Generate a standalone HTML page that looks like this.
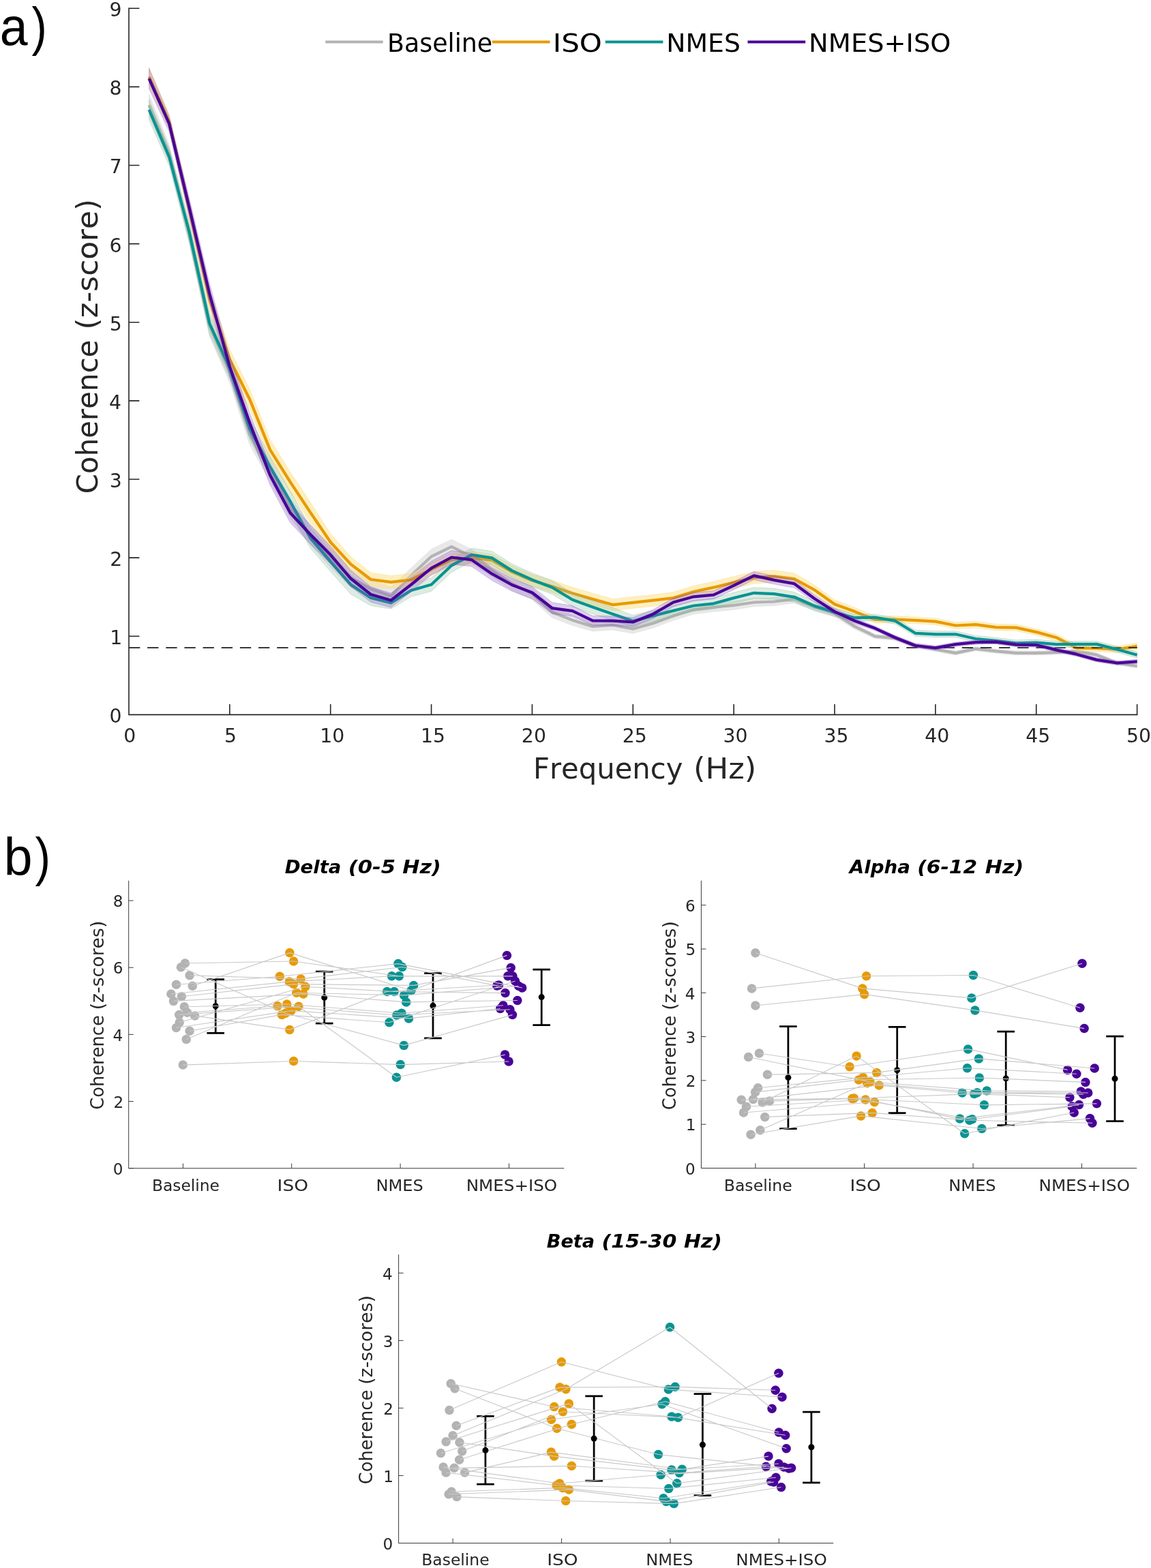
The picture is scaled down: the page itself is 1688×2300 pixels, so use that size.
<!DOCTYPE html>
<html lang="en">
<head>
<meta charset="utf-8">
<title>Coherence figure</title>
<style>
html,body{margin:0;padding:0;background:#fff;}
body{width:1688px;height:2300px;overflow:hidden;}
svg{display:block;font-family:"DejaVu Sans","Liberation Sans",sans-serif;font-kerning:none;}
</style>
</head>
<body>
<svg width="1688" height="2300" viewBox="0 0 1688 2300">
<rect width="1688" height="2300" fill="#fff"/>
<g id="panelA">
<polygon points="218.57,138.3 248.14,212 277.72,329 307.29,462.5 336.86,530.6 366.43,622.7 396,675.8 425.58,729.9 455.15,769 484.72,803.75 514.29,834.5 543.86,850.25 573.44,861 603.01,833 632.58,805.47 662.15,791.13 691.72,805.8 721.3,826.2 750.87,846.7 780.44,861.7 810.01,889.67 839.58,902.13 869.16,911.9 898.73,910.07 928.3,915.64 957.87,907.51 987.44,896.69 1017.02,887.66 1046.59,884.13 1076.16,881.5 1105.73,877.3 1135.3,876.6 1164.88,873.3 1194.45,885.4 1224.02,894.8 1253.59,914.75 1283.16,930.1 1312.74,932.82 1342.31,943.75 1371.88,949.27 1401.45,954.69 1431.02,948.42 1460.6,952.04 1490.17,954.76 1519.74,954.78 1549.31,953.91 1578.88,952.13 1608.46,957.65 1638.03,969.48 1667.6,974 1667.6,980 1638.03,975.52 1608.46,963.75 1578.88,958.27 1549.31,960.09 1519.74,961.02 1490.17,961.04 1460.6,958.36 1431.02,954.78 1401.45,961.11 1371.88,955.73 1342.31,950.25 1312.74,939.38 1283.16,936.7 1253.59,923.05 1224.02,904.8 1194.45,896 1164.88,884.5 1135.3,888.4 1105.73,889.7 1076.16,894.5 1046.59,897.27 1017.02,900.94 987.44,910.11 957.87,921.09 928.3,929.36 898.73,923.93 869.16,925.9 839.58,917.47 810.01,906.33 780.44,879.7 750.87,865.7 721.3,846.2 691.72,826.8 662.15,812.47 632.58,827.13 603.01,855 573.44,887 543.86,876.75 514.29,861.5 484.72,832.25 455.15,799 425.58,760.1 396,706.2 366.43,653.3 336.86,561.4 307.29,493.5 277.72,359 248.14,238 218.57,170.3" fill="#bfbfbf" fill-opacity="0.35" stroke="#b0b0b0" stroke-opacity="0.25" stroke-width="0.7" stroke-linejoin="round"/>
<polyline points="218.57,154.3 248.14,225 277.72,344 307.29,478 336.86,546 366.43,638 396,691 425.58,745 455.15,784 484.72,818 514.29,848 543.86,863.5 573.44,874 603.01,844 632.58,816.3 662.15,801.8 691.72,816.3 721.3,836.2 750.87,856.2 780.44,870.7 810.01,898 839.58,909.8 869.16,918.9 898.73,917 928.3,922.5 957.87,914.3 987.44,903.4 1017.02,894.3 1046.59,890.7 1076.16,888 1105.73,883.5 1135.3,882.5 1164.88,878.9 1194.45,890.7 1224.02,899.8 1253.59,918.9 1283.16,933.4 1312.74,936.1 1342.31,947 1371.88,952.5 1401.45,957.9 1431.02,951.6 1460.6,955.2 1490.17,957.9 1519.74,957.9 1549.31,957 1578.88,955.2 1608.46,960.7 1638.03,972.5 1667.6,977" fill="none" stroke="#b3b3b3" stroke-width="4.25" stroke-linejoin="round" stroke-linecap="butt"/>
<polygon points="218.57,98.6 248.14,167.5 277.72,294 307.29,424 336.86,512 366.43,571.2 396,644.6 425.58,691.9 455.15,736.6 484.72,782.7 514.29,816.25 543.86,840 573.44,844.3 603.01,841.5 632.58,826.1 662.15,812.2 691.72,809.1 721.3,812.7 750.87,829.8 780.44,842.5 810.01,851.3 839.58,861.3 869.16,870.07 898.73,878.43 928.3,875.3 957.87,872.13 987.44,868.46 1017.02,859.29 1046.59,852.91 1076.16,845.54 1105.73,838.17 1135.3,836.3 1164.88,840.83 1194.45,857.97 1224.02,879.7 1253.59,891.35 1283.16,903.9 1312.74,903.52 1342.31,904.83 1371.88,906.65 1401.45,912.56 1431.02,911.28 1460.6,915.29 1490.17,915.81 1519.74,922.22 1549.31,930.34 1578.88,945.45 1608.46,946.17 1638.03,947.68 1667.6,943.1 1667.6,952.7 1638.03,957.32 1608.46,955.83 1578.88,955.15 1549.31,940.06 1519.74,931.98 1490.17,925.59 1460.6,925.11 1431.02,921.12 1401.45,922.44 1371.88,916.55 1342.31,914.77 1312.74,913.48 1283.16,913.9 1253.59,902.85 1224.02,892.7 1194.45,872.63 1164.88,857.17 1135.3,854.3 1105.73,856.03 1076.16,863.26 1046.59,870.49 1017.02,876.71 987.44,885.74 957.87,889.27 928.3,892.3 898.73,895.77 869.16,887.73 839.58,879.3 810.01,869.3 780.44,860.5 750.87,847.8 721.3,830.7 691.72,827.1 662.15,830.2 632.58,844.1 603.01,859.5 573.44,863.3 543.86,860 514.29,838.75 484.72,807.7 455.15,766.6 425.58,721.9 396,674.6 366.43,601.2 336.86,542 307.29,454 277.72,322 248.14,189.5 218.57,126.6" fill="#ffdf80" fill-opacity="0.5" stroke="#f0c860" stroke-opacity="0.35" stroke-width="0.7" stroke-linejoin="round"/>
<polyline points="218.57,112.6 248.14,178.5 277.72,308 307.29,439 336.86,527 366.43,586.2 396,659.6 425.58,706.9 455.15,751.6 484.72,795.2 514.29,827.5 543.86,850 573.44,853.8 603.01,850.5 632.58,835.1 662.15,821.2 691.72,818.1 721.3,821.7 750.87,838.8 780.44,851.5 810.01,860.3 839.58,870.3 869.16,878.9 898.73,887.1 928.3,883.8 957.87,880.7 987.44,877.1 1017.02,868 1046.59,861.7 1076.16,854.4 1105.73,847.1 1135.3,845.3 1164.88,849 1194.45,865.3 1224.02,886.2 1253.59,897.1 1283.16,908.9 1312.74,908.5 1342.31,909.8 1371.88,911.6 1401.45,917.5 1431.02,916.2 1460.6,920.2 1490.17,920.7 1519.74,927.1 1549.31,935.2 1578.88,950.3 1608.46,951 1638.03,952.5 1667.6,947.9" fill="none" stroke="#e79a00" stroke-width="4.25" stroke-linejoin="round" stroke-linecap="butt"/>
<line x1="189" y1="950.1" x2="1667.6" y2="950.1" stroke="#1c1c1c" stroke-width="1.7" stroke-dasharray="16.3 10.85" stroke-dashoffset="0"/>
<polygon points="218.57,146 248.14,217.3 277.72,326 307.29,459 336.86,524.6 366.43,614.5 396,669.3 425.58,720.4 455.15,774 484.72,809.3 514.29,843.4 543.86,865.4 573.44,875.1 603.01,856.65 632.58,847.8 662.15,819.74 691.72,804.08 721.3,808.52 750.87,827.16 780.44,840.4 810.01,851.7 839.58,869.8 869.16,880.4 898.73,891.37 928.3,902.43 957.87,895.4 987.44,887.8 1017.02,880.5 1046.59,877.3 1076.16,869.1 1105.73,861.8 1135.3,863.1 1164.88,868.47 1194.45,882.23 1224.02,892 1253.59,900.9 1283.16,901 1312.74,906.12 1342.31,924.23 1371.88,925.75 1401.45,925.76 1431.02,932.48 1460.6,935.29 1490.17,938.91 1519.74,938.02 1549.31,940.74 1578.88,940.45 1608.46,940.47 1638.03,948.08 1667.6,956.3 1667.6,965.1 1638.03,956.92 1608.46,949.33 1578.88,949.35 1549.31,949.66 1519.74,946.98 1490.17,947.89 1460.6,944.31 1431.02,941.52 1401.45,934.84 1371.88,934.85 1342.31,933.37 1312.74,915.28 1283.16,910.2 1253.59,911.5 1224.02,904 1194.45,895.57 1164.88,883.13 1135.3,879.1 1105.73,877.8 1076.16,885.1 1046.59,893.3 1017.02,896.5 987.44,903.8 957.87,911.4 928.3,919.77 898.73,910.03 869.16,900.4 839.58,889.8 810.01,871.7 780.44,860.4 750.87,847.04 721.3,828.28 691.72,823.72 662.15,839.26 632.58,867.2 603.01,875.35 573.44,893.1 543.86,888.4 514.29,871.4 484.72,838.3 455.15,804 425.58,750.6 396,699.7 366.43,645.1 336.86,555.4 307.29,490 277.72,356 248.14,243.3 218.57,176" fill="#8fbf9f" fill-opacity="0.3" stroke="#7fb08f" stroke-opacity="0.45" stroke-width="0.7" stroke-linejoin="round"/>
<polyline points="218.57,161 248.14,230.3 277.72,341 307.29,474.5 336.86,540 366.43,629.8 396,684.5 425.58,735.5 455.15,789 484.72,823.8 514.29,857.4 543.86,876.9 573.44,884.1 603.01,866 632.58,857.5 662.15,829.5 691.72,813.9 721.3,818.4 750.87,837.1 780.44,850.4 810.01,861.7 839.58,879.8 869.16,890.4 898.73,900.7 928.3,911.1 957.87,903.4 987.44,895.8 1017.02,888.5 1046.59,885.3 1076.16,877.1 1105.73,869.8 1135.3,871.1 1164.88,875.8 1194.45,888.9 1224.02,898 1253.59,906.2 1283.16,905.6 1312.74,910.7 1342.31,928.8 1371.88,930.3 1401.45,930.3 1431.02,937 1460.6,939.8 1490.17,943.4 1519.74,942.5 1549.31,945.2 1578.88,944.9 1608.46,944.9 1638.03,952.5 1667.6,960.7" fill="none" stroke="#089392" stroke-width="4.25" stroke-linejoin="round" stroke-linecap="butt"/>
<polygon points="218.57,100.3 248.14,170.2 277.72,291 307.29,416 336.86,522.8 366.43,606.4 396,682.5 425.58,738.1 455.15,770 484.72,800.8 514.29,836.5 543.86,860.7 573.44,869.9 603.01,847.13 632.58,823.16 662.15,807.59 691.72,811.51 721.3,832.24 750.87,848.77 780.44,860.3 810.01,883.87 839.58,888.53 869.16,903.3 898.73,903.84 928.3,905.79 957.87,894.13 987.44,877.07 1017.02,869.01 1046.59,866.46 1076.16,852.9 1105.73,838.4 1135.3,844.8 1164.88,850.2 1194.45,872.75 1224.02,892.6 1253.59,906.85 1283.16,918.4 1312.74,932.02 1342.31,943.83 1371.88,947.15 1401.45,942.06 1431.02,938.98 1460.6,938.49 1490.17,942.51 1519.74,943.02 1549.31,950.34 1578.88,956.65 1608.46,964.87 1638.03,969.48 1667.6,967.3 1667.6,973.3 1638.03,975.52 1608.46,970.93 1578.88,962.75 1549.31,956.46 1519.74,949.18 1490.17,948.69 1460.6,944.71 1431.02,945.22 1401.45,948.34 1371.88,953.45 1342.31,950.17 1312.74,938.38 1283.16,924.8 1253.59,914.55 1224.02,901.6 1194.45,883.25 1164.88,862.2 1135.3,856.8 1105.73,850.4 1076.16,864.9 1046.59,878.74 1017.02,881.59 987.44,889.93 957.87,907.27 928.3,919.21 898.73,917.56 869.16,917.3 839.58,903.87 810.01,900.53 780.44,878.3 750.87,867.23 721.3,851.16 691.72,830.89 662.15,827.41 632.58,843.44 603.01,867.87 573.44,891.1 543.86,883.3 514.29,860.5 484.72,826.8 455.15,798 425.58,766.5 396,711.3 366.43,635.6 336.86,552.4 307.29,446 277.72,319 248.14,193.2 218.57,130.3" fill="#8250c2" fill-opacity="0.28" stroke="#8a5cc4" stroke-opacity="0.5" stroke-width="0.7" stroke-linejoin="round"/>
<polyline points="218.57,115.3 248.14,181.7 277.72,305 307.29,431 336.86,537.6 366.43,621 396,696.9 425.58,752.3 455.15,784 484.72,813.8 514.29,848.5 543.86,872 573.44,880.5 603.01,857.5 632.58,833.3 662.15,817.5 691.72,821.2 721.3,841.7 750.87,858 780.44,869.3 810.01,892.2 839.58,896.2 869.16,910.3 898.73,910.7 928.3,912.5 957.87,900.7 987.44,883.5 1017.02,875.3 1046.59,872.6 1076.16,858.9 1105.73,844.4 1135.3,850.8 1164.88,856.2 1194.45,878 1224.02,897.1 1253.59,910.7 1283.16,921.6 1312.74,935.2 1342.31,947 1371.88,950.3 1401.45,945.2 1431.02,942.1 1460.6,941.6 1490.17,945.6 1519.74,946.1 1549.31,953.4 1578.88,959.7 1608.46,967.9 1638.03,972.5 1667.6,970.3" fill="none" stroke="#480397" stroke-width="4.25" stroke-linejoin="round" stroke-linecap="butt"/>
<path d="M189 12.23 V1048.4 H1667.6" fill="none" stroke="#262626" stroke-width="1.6" stroke-linecap="square"/>
<path d="M189 933.27h15.4M189 818.14h15.4M189 703.01h15.4M189 587.88h15.4M189 472.75h15.4M189 357.62h15.4M189 242.49h15.4M189 127.36h15.4M189 12.23h15.4M336.86 1048.4v-15.4M484.72 1048.4v-15.4M632.58 1048.4v-15.4M780.44 1048.4v-15.4M928.3 1048.4v-15.4M1076.16 1048.4v-15.4M1224.02 1048.4v-15.4M1371.88 1048.4v-15.4M1519.74 1048.4v-15.4M1667.6 1048.4v-15.4" fill="none" stroke="#262626" stroke-width="1.6"/>
<text transform="translate(160.43 1060.3) scale(0.9700 1)" font-size="29.2" fill="#262626">0</text>
<text transform="translate(161.31 945.17) scale(0.9700 1)" font-size="29.2" fill="#262626">1</text>
<text transform="translate(161.31 830.04) scale(0.9700 1)" font-size="29.2" fill="#262626">2</text>
<text transform="translate(160.87 714.91) scale(0.9700 1)" font-size="29.2" fill="#262626">3</text>
<text transform="translate(159.98 599.78) scale(0.9700 1)" font-size="29.2" fill="#262626">4</text>
<text transform="translate(160.87 484.65) scale(0.9700 1)" font-size="29.2" fill="#262626">5</text>
<text transform="translate(160.43 369.52) scale(0.9700 1)" font-size="29.2" fill="#262626">6</text>
<text transform="translate(160.87 254.39) scale(0.9700 1)" font-size="29.2" fill="#262626">7</text>
<text transform="translate(160.43 139.26) scale(0.9700 1)" font-size="29.2" fill="#262626">8</text>
<text transform="translate(160.43 24.13) scale(0.9700 1)" font-size="29.2" fill="#262626">9</text>
<text transform="translate(181.22 1089.3) scale(0.9700 1)" font-size="29.2" fill="#262626">0</text>
<text transform="translate(329.08 1089.3) scale(0.9700 1)" font-size="29.2" fill="#262626">5</text>
<text transform="translate(469.15 1089.3) scale(0.9700 1)" font-size="29.2" fill="#262626">10</text>
<text transform="translate(617.01 1089.3) scale(0.9700 1)" font-size="29.2" fill="#262626">15</text>
<text transform="translate(764.87 1089.3) scale(0.9700 1)" font-size="29.2" fill="#262626">20</text>
<text transform="translate(912.73 1089.3) scale(0.9700 1)" font-size="29.2" fill="#262626">25</text>
<text transform="translate(1060.59 1089.3) scale(0.9700 1)" font-size="29.2" fill="#262626">30</text>
<text transform="translate(1208.45 1089.3) scale(0.9700 1)" font-size="29.2" fill="#262626">35</text>
<text transform="translate(1356.31 1089.3) scale(0.9700 1)" font-size="29.2" fill="#262626">40</text>
<text transform="translate(1504.17 1089.3) scale(0.9700 1)" font-size="29.2" fill="#262626">45</text>
<text transform="translate(1652.03 1089.3) scale(0.9700 1)" font-size="29.2" fill="#262626">50</text>
<text transform="translate(0 1142.4)" font-size="43" fill="#262626"><tspan x="781.89" textLength="219.53" lengthAdjust="spacingAndGlyphs">Frequency</tspan> <tspan x="1017" textLength="92.29" lengthAdjust="spacingAndGlyphs">(Hz)</tspan></text>
<text transform="translate(142.6 0) rotate(-90)" font-size="43" fill="#262626"><tspan x="-724.27" textLength="225.78" lengthAdjust="spacingAndGlyphs">Coherence</tspan> <tspan x="-483.63" textLength="191.83" lengthAdjust="spacingAndGlyphs">(z-score)</tspan></text>
<line x1="477.3" y1="61.5" x2="561.7" y2="61.5" stroke="#b3b3b3" stroke-width="4"/>
<line x1="721.8" y1="61.5" x2="806.5" y2="61.5" stroke="#e79a00" stroke-width="4"/>
<line x1="887.7" y1="61.5" x2="972.4" y2="61.5" stroke="#089392" stroke-width="4"/>
<line x1="1096.5" y1="61.5" x2="1181.2" y2="61.5" stroke="#480397" stroke-width="4"/>
<text transform="translate(567.99 76) scale(0.9966 1)" font-size="36.5" fill="#000000">Baseline</text>
<text transform="translate(810.76 76) scale(1.1515 1)" font-size="36.5" fill="#000000">ISO</text>
<text transform="translate(977.26 76) scale(1.0349 1)" font-size="36.5" fill="#000000">NMES</text>
<text transform="translate(1186.1 76) scale(1.0512 1)" font-size="36.5" fill="#000000">NMES+ISO</text>
<text transform="translate(0 66.3)" font-size="77" fill="#000000" font-family="Liberation Sans, sans-serif"><tspan x="-0.29" textLength="40.83" lengthAdjust="spacingAndGlyphs">a</tspan><tspan x="46.4" textLength="22.26" lengthAdjust="spacingAndGlyphs">)</tspan></text>
</g>
<g id="delta">
<circle cx="271.4" cy="1413" r="6.75" fill="#b3b3b3"/>
<circle cx="265.4" cy="1418.7" r="6.75" fill="#b3b3b3"/>
<circle cx="278.1" cy="1430.8" r="6.75" fill="#b3b3b3"/>
<circle cx="258.5" cy="1444.3" r="6.75" fill="#b3b3b3"/>
<circle cx="282.3" cy="1446.3" r="6.75" fill="#b3b3b3"/>
<circle cx="250.9" cy="1458.1" r="6.75" fill="#b3b3b3"/>
<circle cx="266.3" cy="1461.7" r="6.75" fill="#b3b3b3"/>
<circle cx="254.5" cy="1468.4" r="6.75" fill="#b3b3b3"/>
<circle cx="270.3" cy="1476.8" r="6.75" fill="#b3b3b3"/>
<circle cx="274.5" cy="1485.3" r="6.75" fill="#b3b3b3"/>
<circle cx="262.7" cy="1488.4" r="6.75" fill="#b3b3b3"/>
<circle cx="285.7" cy="1489.9" r="6.75" fill="#b3b3b3"/>
<circle cx="263.2" cy="1499.8" r="6.75" fill="#b3b3b3"/>
<circle cx="258.5" cy="1507.5" r="6.75" fill="#b3b3b3"/>
<circle cx="278.1" cy="1512.2" r="6.75" fill="#b3b3b3"/>
<circle cx="273.2" cy="1524.5" r="6.75" fill="#b3b3b3"/>
<circle cx="268.3" cy="1562.1" r="6.75" fill="#b3b3b3"/>
<circle cx="424.8" cy="1397.6" r="6.75" fill="#e79a00"/>
<circle cx="430.6" cy="1410" r="6.75" fill="#e79a00"/>
<circle cx="410.3" cy="1432.3" r="6.75" fill="#e79a00"/>
<circle cx="441.2" cy="1435.9" r="6.75" fill="#e79a00"/>
<circle cx="424.3" cy="1439.9" r="6.75" fill="#e79a00"/>
<circle cx="430.6" cy="1443.6" r="6.75" fill="#e79a00"/>
<circle cx="447.9" cy="1447.2" r="6.75" fill="#e79a00"/>
<circle cx="434.8" cy="1456.3" r="6.75" fill="#e79a00"/>
<circle cx="444.8" cy="1458.1" r="6.75" fill="#e79a00"/>
<circle cx="420.7" cy="1473" r="6.75" fill="#e79a00"/>
<circle cx="407" cy="1475.7" r="6.75" fill="#e79a00"/>
<circle cx="437.9" cy="1476.2" r="6.75" fill="#e79a00"/>
<circle cx="427" cy="1482.6" r="6.75" fill="#e79a00"/>
<circle cx="418.8" cy="1486.2" r="6.75" fill="#e79a00"/>
<circle cx="413.4" cy="1488.4" r="6.75" fill="#e79a00"/>
<circle cx="424.8" cy="1510.4" r="6.75" fill="#e79a00"/>
<circle cx="430.6" cy="1556.5" r="6.75" fill="#e79a00"/>
<circle cx="583.9" cy="1413.6" r="6.75" fill="#089392"/>
<circle cx="589.9" cy="1418.5" r="6.75" fill="#089392"/>
<circle cx="574.5" cy="1431.8" r="6.75" fill="#089392"/>
<circle cx="585.4" cy="1431.8" r="6.75" fill="#089392"/>
<circle cx="606.6" cy="1445.4" r="6.75" fill="#089392"/>
<circle cx="603" cy="1453" r="6.75" fill="#089392"/>
<circle cx="567.6" cy="1454.5" r="6.75" fill="#089392"/>
<circle cx="578.1" cy="1454.5" r="6.75" fill="#089392"/>
<circle cx="592.6" cy="1459.9" r="6.75" fill="#089392"/>
<circle cx="595.7" cy="1469.9" r="6.75" fill="#089392"/>
<circle cx="589" cy="1486.2" r="6.75" fill="#089392"/>
<circle cx="581.8" cy="1489" r="6.75" fill="#089392"/>
<circle cx="599.5" cy="1493.9" r="6.75" fill="#089392"/>
<circle cx="570.9" cy="1499.8" r="6.75" fill="#089392"/>
<circle cx="592.3" cy="1533.4" r="6.75" fill="#089392"/>
<circle cx="587.2" cy="1561.6" r="6.75" fill="#089392"/>
<circle cx="581.4" cy="1580.3" r="6.75" fill="#089392"/>
<circle cx="743.4" cy="1401.4" r="6.75" fill="#480397"/>
<circle cx="749.2" cy="1419.4" r="6.75" fill="#480397"/>
<circle cx="744.8" cy="1431.8" r="6.75" fill="#480397"/>
<circle cx="751.9" cy="1431.8" r="6.75" fill="#480397"/>
<circle cx="755.5" cy="1439" r="6.75" fill="#480397"/>
<circle cx="728.8" cy="1445.9" r="6.75" fill="#480397"/>
<circle cx="760.6" cy="1446.3" r="6.75" fill="#480397"/>
<circle cx="765.7" cy="1449" r="6.75" fill="#480397"/>
<circle cx="741" cy="1456.6" r="6.75" fill="#480397"/>
<circle cx="758.8" cy="1467.5" r="6.75" fill="#480397"/>
<circle cx="737.9" cy="1474.8" r="6.75" fill="#480397"/>
<circle cx="733.7" cy="1479.5" r="6.75" fill="#480397"/>
<circle cx="747.9" cy="1480.8" r="6.75" fill="#480397"/>
<circle cx="751.5" cy="1488.6" r="6.75" fill="#480397"/>
<circle cx="740.6" cy="1547.1" r="6.75" fill="#480397"/>
<circle cx="746.1" cy="1557" r="6.75" fill="#480397"/>
<circle cx="731.5" cy="1445" r="6.75" fill="#480397"/>
<path d="M316.2 1436.7V1515.3M303.4 1436.7h25.6M303.4 1515.3h25.6" fill="none" stroke="#000" stroke-width="2.75"/>
<path d="M475.7 1425V1501.1M462.9 1425h25.6M462.9 1501.1h25.6" fill="none" stroke="#000" stroke-width="2.75"/>
<path d="M635 1427.6V1522.9M622.2 1427.6h25.6M622.2 1522.9h25.6" fill="none" stroke="#000" stroke-width="2.75"/>
<path d="M794.2 1422.1V1503.5M781.4 1422.1h25.6M781.4 1503.5h25.6" fill="none" stroke="#000" stroke-width="2.75"/>
<circle cx="316.2" cy="1475.7" r="4.5" fill="#000"/>
<circle cx="475.7" cy="1463.2" r="4.5" fill="#000"/>
<circle cx="635" cy="1475.3" r="4.5" fill="#000"/>
<circle cx="794.2" cy="1462.6" r="4.5" fill="#000"/>
<path d="M271.4 1413L430.6 1410M265.4 1418.7L418.8 1486.2M278.1 1430.8L441.2 1435.9M258.5 1444.3L410.3 1432.3M282.3 1446.3L424.8 1397.6M250.9 1458.1L424.3 1439.9M266.3 1461.7L430.6 1443.6M254.5 1468.4L444.8 1458.1M270.3 1476.8L420.7 1473M274.5 1485.3L407 1475.7M262.7 1488.4L437.9 1476.2M285.7 1489.9L424.8 1510.4M263.2 1499.8L447.9 1447.2M258.5 1507.5L427 1482.6M278.1 1512.2L413.4 1488.4M273.2 1524.5L434.8 1456.3M268.3 1562.1L430.6 1556.5M424.8 1397.6L603 1453M430.6 1410L585.4 1431.8M410.3 1432.3L583.9 1413.6M441.2 1435.9L589.9 1418.5M424.3 1439.9L574.5 1431.8M430.6 1443.6L606.6 1445.4M447.9 1447.2L578.1 1454.5M434.8 1456.3L592.6 1459.9M444.8 1458.1L595.7 1469.9M420.7 1473L589 1486.2M407 1475.7L581.8 1489M437.9 1476.2L581.4 1580.3M427 1482.6L599.5 1493.9M418.8 1486.2L592.3 1533.4M413.4 1488.4L570.9 1499.8M424.8 1510.4L567.6 1454.5M430.6 1556.5L587.2 1561.6M583.9 1413.6L765.7 1449M589.9 1418.5L728.8 1445.9M574.5 1431.8L744.8 1431.8M585.4 1431.8L751.9 1431.8M606.6 1445.4L749.2 1419.4M603 1453L743.4 1401.4M567.6 1454.5L731.5 1445M578.1 1454.5L741 1456.6M592.6 1459.9L760.6 1446.3M595.7 1469.9L758.8 1467.5M589 1486.2L737.9 1474.8M581.8 1489L747.9 1480.8M599.5 1493.9L733.7 1479.5M570.9 1499.8L755.5 1439M592.3 1533.4L751.5 1488.6M587.2 1561.6L746.1 1557M581.4 1580.3L740.6 1547.1" fill="none" stroke="#c9c9c9" stroke-width="1.15"/>
<path d="M188.7 1292.2 V1713.7 H826.8" fill="none" stroke="#3a3a3a" stroke-width="1.0" stroke-linecap="square"/>
<path d="M188.7 1713.7h7M188.7 1615.54h7M188.7 1517.38h7M188.7 1419.22h7M188.7 1321.06h7M268.4 1713.7v-7M427.7 1713.7v-7M587.1 1713.7v-7M746.5 1713.7v-7" fill="none" stroke="#3a3a3a" stroke-width="1.0"/>
<text transform="translate(165.85 1722.9) scale(1.0000 1)" font-size="23.1" fill="#262626">0</text>
<text transform="translate(166.57 1624.74) scale(1.0000 1)" font-size="23.1" fill="#262626">2</text>
<text transform="translate(165.48 1526.58) scale(1.0000 1)" font-size="23.1" fill="#262626">4</text>
<text transform="translate(165.85 1428.42) scale(1.0000 1)" font-size="23.1" fill="#262626">6</text>
<text transform="translate(165.85 1330.26) scale(1.0000 1)" font-size="23.1" fill="#262626">8</text>
<text transform="translate(222.91 1746.9) scale(1.0111 1)" font-size="23.1" fill="#262626">Baseline</text>
<text transform="translate(406.62 1746.9) scale(1.1468 1)" font-size="23.1" fill="#262626">ISO</text>
<text transform="translate(551.54 1746.9) scale(1.0433 1)" font-size="23.1" fill="#262626">NMES</text>
<text transform="translate(683.69 1746.9) scale(1.0647 1)" font-size="23.1" fill="#262626">NMES+ISO</text>
<text transform="translate(151.8 0) rotate(-90)" font-size="26.5" fill="#262626"><tspan x="-1627.81" textLength="138.56" lengthAdjust="spacingAndGlyphs">Coherence</tspan> <tspan x="-1481.39" textLength="130.76" lengthAdjust="spacingAndGlyphs">(z-scores)</tspan></text>
<text transform="translate(0 1281.4)" font-size="27.3" fill="#000000" font-weight="bold" font-style="italic"><tspan x="417.77" textLength="82.6" lengthAdjust="spacingAndGlyphs">Delta</tspan> <tspan x="510.68" textLength="69.43" lengthAdjust="spacingAndGlyphs">(0-5</tspan> <tspan x="590.23" textLength="56.44" lengthAdjust="spacingAndGlyphs">Hz)</tspan></text>
</g>
<g id="alpha">
<circle cx="1107.9" cy="1397.8" r="6.75" fill="#b3b3b3"/>
<circle cx="1102.5" cy="1449.9" r="6.75" fill="#b3b3b3"/>
<circle cx="1107.9" cy="1475" r="6.75" fill="#b3b3b3"/>
<circle cx="1113.4" cy="1545" r="6.75" fill="#b3b3b3"/>
<circle cx="1097.6" cy="1550.5" r="6.75" fill="#b3b3b3"/>
<circle cx="1125.4" cy="1576.3" r="6.75" fill="#b3b3b3"/>
<circle cx="1111.6" cy="1595.7" r="6.75" fill="#b3b3b3"/>
<circle cx="1107.6" cy="1602.1" r="6.75" fill="#b3b3b3"/>
<circle cx="1104.5" cy="1612.4" r="6.75" fill="#b3b3b3"/>
<circle cx="1087.2" cy="1613.3" r="6.75" fill="#b3b3b3"/>
<circle cx="1128.6" cy="1615.1" r="6.75" fill="#b3b3b3"/>
<circle cx="1118.1" cy="1617" r="6.75" fill="#b3b3b3"/>
<circle cx="1094.5" cy="1623.3" r="6.75" fill="#b3b3b3"/>
<circle cx="1090.5" cy="1632" r="6.75" fill="#b3b3b3"/>
<circle cx="1121.7" cy="1638.4" r="6.75" fill="#b3b3b3"/>
<circle cx="1114.8" cy="1657.8" r="6.75" fill="#b3b3b3"/>
<circle cx="1101" cy="1664.2" r="6.75" fill="#b3b3b3"/>
<circle cx="1270.6" cy="1431.7" r="6.75" fill="#e79a00"/>
<circle cx="1264.8" cy="1449.9" r="6.75" fill="#e79a00"/>
<circle cx="1267.6" cy="1458.6" r="6.75" fill="#e79a00"/>
<circle cx="1256.1" cy="1548.9" r="6.75" fill="#e79a00"/>
<circle cx="1246.1" cy="1564.8" r="6.75" fill="#e79a00"/>
<circle cx="1285.7" cy="1573.4" r="6.75" fill="#e79a00"/>
<circle cx="1265.7" cy="1580.6" r="6.75" fill="#e79a00"/>
<circle cx="1259.4" cy="1583.9" r="6.75" fill="#e79a00"/>
<circle cx="1276.1" cy="1587" r="6.75" fill="#e79a00"/>
<circle cx="1271.6" cy="1588.8" r="6.75" fill="#e79a00"/>
<circle cx="1289.2" cy="1591.9" r="6.75" fill="#e79a00"/>
<circle cx="1249.8" cy="1611.5" r="6.75" fill="#e79a00"/>
<circle cx="1252.5" cy="1611.1" r="6.75" fill="#e79a00"/>
<circle cx="1269.2" cy="1613" r="6.75" fill="#e79a00"/>
<circle cx="1282.4" cy="1616.4" r="6.75" fill="#e79a00"/>
<circle cx="1279.2" cy="1632.4" r="6.75" fill="#e79a00"/>
<circle cx="1262.6" cy="1636.9" r="6.75" fill="#e79a00"/>
<circle cx="1427.4" cy="1430.5" r="6.75" fill="#089392"/>
<circle cx="1424.9" cy="1463.9" r="6.75" fill="#089392"/>
<circle cx="1429.9" cy="1481.9" r="6.75" fill="#089392"/>
<circle cx="1419.6" cy="1538.9" r="6.75" fill="#089392"/>
<circle cx="1435.4" cy="1552.9" r="6.75" fill="#089392"/>
<circle cx="1418.5" cy="1566.7" r="6.75" fill="#089392"/>
<circle cx="1436.3" cy="1581" r="6.75" fill="#089392"/>
<circle cx="1447.2" cy="1600.1" r="6.75" fill="#089392"/>
<circle cx="1411.2" cy="1603" r="6.75" fill="#089392"/>
<circle cx="1433" cy="1602.8" r="6.75" fill="#089392"/>
<circle cx="1428.7" cy="1604.6" r="6.75" fill="#089392"/>
<circle cx="1443.4" cy="1620.8" r="6.75" fill="#089392"/>
<circle cx="1407.6" cy="1641.1" r="6.75" fill="#089392"/>
<circle cx="1425.8" cy="1641.8" r="6.75" fill="#089392"/>
<circle cx="1421.8" cy="1643.3" r="6.75" fill="#089392"/>
<circle cx="1439.9" cy="1655.5" r="6.75" fill="#089392"/>
<circle cx="1414.7" cy="1662.7" r="6.75" fill="#089392"/>
<circle cx="1587" cy="1413.2" r="6.75" fill="#480397"/>
<circle cx="1583.9" cy="1478.2" r="6.75" fill="#480397"/>
<circle cx="1590.1" cy="1508.6" r="6.75" fill="#480397"/>
<circle cx="1605.2" cy="1567" r="6.75" fill="#480397"/>
<circle cx="1565.6" cy="1569.4" r="6.75" fill="#480397"/>
<circle cx="1578.8" cy="1575.2" r="6.75" fill="#480397"/>
<circle cx="1591.9" cy="1587.4" r="6.75" fill="#480397"/>
<circle cx="1585.2" cy="1601" r="6.75" fill="#480397"/>
<circle cx="1595.7" cy="1603" r="6.75" fill="#480397"/>
<circle cx="1588.8" cy="1605.2" r="6.75" fill="#480397"/>
<circle cx="1568.9" cy="1609.7" r="6.75" fill="#480397"/>
<circle cx="1608.4" cy="1618.8" r="6.75" fill="#480397"/>
<circle cx="1582.5" cy="1620.6" r="6.75" fill="#480397"/>
<circle cx="1572.1" cy="1623" r="6.75" fill="#480397"/>
<circle cx="1575.2" cy="1632" r="6.75" fill="#480397"/>
<circle cx="1598.5" cy="1640.6" r="6.75" fill="#480397"/>
<circle cx="1601.9" cy="1647.3" r="6.75" fill="#480397"/>
<path d="M1155.9 1505.6V1655.6M1143.1 1505.6h25.6M1143.1 1655.6h25.6" fill="none" stroke="#000" stroke-width="2.75"/>
<path d="M1315.7 1506.4V1632.6M1302.9 1506.4h25.6M1302.9 1632.6h25.6" fill="none" stroke="#000" stroke-width="2.75"/>
<path d="M1475.2 1513.1V1650.6M1462.4 1513.1h25.6M1462.4 1650.6h25.6" fill="none" stroke="#000" stroke-width="2.75"/>
<path d="M1635 1520V1644.7M1622.2 1520h25.6M1622.2 1644.7h25.6" fill="none" stroke="#000" stroke-width="2.75"/>
<circle cx="1155.9" cy="1580.6" r="4.5" fill="#000"/>
<circle cx="1315.7" cy="1569.7" r="4.5" fill="#000"/>
<circle cx="1475.2" cy="1581.9" r="4.5" fill="#000"/>
<circle cx="1635" cy="1582.3" r="4.5" fill="#000"/>
<path d="M1107.9 1397.8L1264.8 1449.9M1102.5 1449.9L1270.6 1431.7M1107.9 1475L1267.6 1458.6M1113.4 1545L1246.1 1564.8M1125.4 1576.3L1285.7 1573.4M1101 1664.2L1262.6 1636.9M1118.1 1617L1256.1 1548.9M1114.8 1657.8L1271.6 1588.8M1097.6 1550.5L1276.1 1587M1111.6 1595.7L1265.7 1580.6M1107.6 1602.1L1259.4 1583.9M1104.5 1612.4L1289.2 1591.9M1087.2 1613.3L1252.5 1611.1M1128.6 1615.1L1249.8 1611.5M1094.5 1623.3L1269.2 1613M1090.5 1632L1282.4 1616.4M1121.7 1638.4L1279.2 1632.4M1270.6 1431.7L1427.4 1430.5M1264.8 1449.9L1424.9 1463.9M1267.6 1458.6L1429.9 1481.9M1256.1 1548.9L1414.7 1662.7M1246.1 1564.8L1419.6 1538.9M1285.7 1573.4L1435.4 1552.9M1265.7 1580.6L1418.5 1566.7M1259.4 1583.9L1436.3 1581M1276.1 1587L1447.2 1600.1M1271.6 1588.8L1433 1602.8M1289.2 1591.9L1411.2 1603M1252.5 1611.1L1428.7 1604.6M1249.8 1611.5L1443.4 1620.8M1269.2 1613L1407.6 1641.1M1282.4 1616.4L1425.8 1641.8M1279.2 1632.4L1421.8 1643.3M1262.6 1636.9L1439.9 1655.5M1427.4 1430.5L1583.9 1478.2M1424.9 1463.9L1587 1413.2M1429.9 1481.9L1590.1 1508.6M1419.6 1538.9L1565.6 1569.4M1435.4 1552.9L1605.2 1567M1418.5 1566.7L1578.8 1575.2M1414.7 1662.7L1575.2 1632M1439.9 1655.5L1598.5 1640.6M1436.3 1581L1591.9 1587.4M1447.2 1600.1L1585.2 1601M1433 1602.8L1595.7 1603M1411.2 1603L1588.8 1605.2M1428.7 1604.6L1568.9 1609.7M1443.4 1620.8L1608.4 1618.8M1407.6 1641.1L1582.5 1620.6M1425.8 1641.8L1572.1 1623M1421.8 1643.3L1601.9 1647.3" fill="none" stroke="#c9c9c9" stroke-width="1.15"/>
<path d="M1028.4 1292.2 V1713.5 H1666.7" fill="none" stroke="#3a3a3a" stroke-width="1.0" stroke-linecap="square"/>
<path d="M1028.4 1713.5h7M1028.4 1649.2h7M1028.4 1584.9h7M1028.4 1520.6h7M1028.4 1456.3h7M1028.4 1392h7M1028.4 1327.7h7M1107.9 1713.5v-7M1267.6 1713.5v-7M1427.1 1713.5v-7M1586.5 1713.5v-7" fill="none" stroke="#3a3a3a" stroke-width="1.0"/>
<text transform="translate(1005.05 1722.7) scale(1.0000 1)" font-size="23.1" fill="#262626">0</text>
<text transform="translate(1005.77 1658.4) scale(1.0000 1)" font-size="23.1" fill="#262626">1</text>
<text transform="translate(1005.77 1594.1) scale(1.0000 1)" font-size="23.1" fill="#262626">2</text>
<text transform="translate(1005.41 1529.8) scale(1.0000 1)" font-size="23.1" fill="#262626">3</text>
<text transform="translate(1004.68 1465.5) scale(1.0000 1)" font-size="23.1" fill="#262626">4</text>
<text transform="translate(1005.41 1401.2) scale(1.0000 1)" font-size="23.1" fill="#262626">5</text>
<text transform="translate(1005.05 1336.9) scale(1.0000 1)" font-size="23.1" fill="#262626">6</text>
<text transform="translate(1061.69 1746.9) scale(1.0227 1)" font-size="23.1" fill="#262626">Baseline</text>
<text transform="translate(1246.42 1746.9) scale(1.1468 1)" font-size="23.1" fill="#262626">ISO</text>
<text transform="translate(1391.34 1746.9) scale(1.0433 1)" font-size="23.1" fill="#262626">NMES</text>
<text transform="translate(1523.49 1746.9) scale(1.0647 1)" font-size="23.1" fill="#262626">NMES+ISO</text>
<text transform="translate(990.8 0) rotate(-90)" font-size="26.5" fill="#262626"><tspan x="-1628.31" textLength="138.56" lengthAdjust="spacingAndGlyphs">Coherence</tspan> <tspan x="-1481.89" textLength="130.76" lengthAdjust="spacingAndGlyphs">(z-scores)</tspan></text>
<text transform="translate(0 1281.4)" font-size="27.3" fill="#000000" font-weight="bold" font-style="italic"><tspan x="1245.76" textLength="89.12" lengthAdjust="spacingAndGlyphs">Alpha</tspan> <tspan x="1345.24" textLength="87.89" lengthAdjust="spacingAndGlyphs">(6-12</tspan> <tspan x="1444.73" textLength="56.44" lengthAdjust="spacingAndGlyphs">Hz)</tspan></text>
</g>
<g id="beta">
<circle cx="661.2" cy="2029.5" r="6.75" fill="#b3b3b3"/>
<circle cx="667" cy="2036.8" r="6.75" fill="#b3b3b3"/>
<circle cx="659" cy="2068.5" r="6.75" fill="#b3b3b3"/>
<circle cx="669.2" cy="2091.2" r="6.75" fill="#b3b3b3"/>
<circle cx="664.1" cy="2105.8" r="6.75" fill="#b3b3b3"/>
<circle cx="654.1" cy="2114.8" r="6.75" fill="#b3b3b3"/>
<circle cx="673.9" cy="2115.7" r="6.75" fill="#b3b3b3"/>
<circle cx="677.7" cy="2128.8" r="6.75" fill="#b3b3b3"/>
<circle cx="646.5" cy="2131.5" r="6.75" fill="#b3b3b3"/>
<circle cx="673.6" cy="2141.2" r="6.75" fill="#b3b3b3"/>
<circle cx="650.1" cy="2152.1" r="6.75" fill="#b3b3b3"/>
<circle cx="666.1" cy="2153.3" r="6.75" fill="#b3b3b3"/>
<circle cx="654.1" cy="2160.1" r="6.75" fill="#b3b3b3"/>
<circle cx="681.6" cy="2160.1" r="6.75" fill="#b3b3b3"/>
<circle cx="662.1" cy="2188" r="6.75" fill="#b3b3b3"/>
<circle cx="658.1" cy="2191.8" r="6.75" fill="#b3b3b3"/>
<circle cx="669.9" cy="2195.6" r="6.75" fill="#b3b3b3"/>
<circle cx="823.4" cy="1997.7" r="6.75" fill="#e79a00"/>
<circle cx="821" cy="2035.1" r="6.75" fill="#e79a00"/>
<circle cx="829.9" cy="2037.7" r="6.75" fill="#e79a00"/>
<circle cx="834.3" cy="2058.9" r="6.75" fill="#e79a00"/>
<circle cx="812.7" cy="2063.5" r="6.75" fill="#e79a00"/>
<circle cx="825.4" cy="2070.7" r="6.75" fill="#e79a00"/>
<circle cx="808.5" cy="2082.2" r="6.75" fill="#e79a00"/>
<circle cx="838.3" cy="2089.2" r="6.75" fill="#e79a00"/>
<circle cx="816.7" cy="2095.2" r="6.75" fill="#e79a00"/>
<circle cx="808.3" cy="2130.1" r="6.75" fill="#e79a00"/>
<circle cx="812.7" cy="2136.1" r="6.75" fill="#e79a00"/>
<circle cx="838.3" cy="2150.3" r="6.75" fill="#e79a00"/>
<circle cx="820.7" cy="2176" r="6.75" fill="#e79a00"/>
<circle cx="816.1" cy="2178.8" r="6.75" fill="#e79a00"/>
<circle cx="825.2" cy="2182.4" r="6.75" fill="#e79a00"/>
<circle cx="834.3" cy="2185.1" r="6.75" fill="#e79a00"/>
<circle cx="829.7" cy="2201.5" r="6.75" fill="#e79a00"/>
<circle cx="982.5" cy="1946.7" r="6.75" fill="#089392"/>
<circle cx="990.1" cy="2034.2" r="6.75" fill="#089392"/>
<circle cx="980.3" cy="2038" r="6.75" fill="#089392"/>
<circle cx="975.6" cy="2055.8" r="6.75" fill="#089392"/>
<circle cx="970.9" cy="2059.8" r="6.75" fill="#089392"/>
<circle cx="985" cy="2078" r="6.75" fill="#089392"/>
<circle cx="994.5" cy="2079.3" r="6.75" fill="#089392"/>
<circle cx="965.4" cy="2133.5" r="6.75" fill="#089392"/>
<circle cx="1000.3" cy="2155.2" r="6.75" fill="#089392"/>
<circle cx="984.9" cy="2156.1" r="6.75" fill="#089392"/>
<circle cx="996.3" cy="2160.6" r="6.75" fill="#089392"/>
<circle cx="969.1" cy="2163.3" r="6.75" fill="#089392"/>
<circle cx="992.7" cy="2175.7" r="6.75" fill="#089392"/>
<circle cx="980.7" cy="2183.5" r="6.75" fill="#089392"/>
<circle cx="973" cy="2197.8" r="6.75" fill="#089392"/>
<circle cx="977.2" cy="2202.4" r="6.75" fill="#089392"/>
<circle cx="988.3" cy="2205.6" r="6.75" fill="#089392"/>
<circle cx="1141.9" cy="2014.2" r="6.75" fill="#480397"/>
<circle cx="1137.2" cy="2039.3" r="6.75" fill="#480397"/>
<circle cx="1147" cy="2049.3" r="6.75" fill="#480397"/>
<circle cx="1132.1" cy="2066.2" r="6.75" fill="#480397"/>
<circle cx="1142.3" cy="2101" r="6.75" fill="#480397"/>
<circle cx="1151.7" cy="2105.2" r="6.75" fill="#480397"/>
<circle cx="1153.2" cy="2124.8" r="6.75" fill="#480397"/>
<circle cx="1127" cy="2136.1" r="6.75" fill="#480397"/>
<circle cx="1141.9" cy="2147" r="6.75" fill="#480397"/>
<circle cx="1123.4" cy="2151.2" r="6.75" fill="#480397"/>
<circle cx="1149.7" cy="2152.1" r="6.75" fill="#480397"/>
<circle cx="1157" cy="2153.9" r="6.75" fill="#480397"/>
<circle cx="1160.6" cy="2153.3" r="6.75" fill="#480397"/>
<circle cx="1137.9" cy="2167.3" r="6.75" fill="#480397"/>
<circle cx="1130.7" cy="2173" r="6.75" fill="#480397"/>
<circle cx="1134.7" cy="2173.9" r="6.75" fill="#480397"/>
<circle cx="1145.6" cy="2181.5" r="6.75" fill="#480397"/>
<path d="M711.9 2077.4V2177.1M699.1 2077.4h25.6M699.1 2177.1h25.6" fill="none" stroke="#000" stroke-width="2.75"/>
<path d="M871.1 2047.8V2172.2M858.3 2047.8h25.6M858.3 2172.2h25.6" fill="none" stroke="#000" stroke-width="2.75"/>
<path d="M1030.4 2044.7V2193.6M1017.6 2044.7h25.6M1017.6 2193.6h25.6" fill="none" stroke="#000" stroke-width="2.75"/>
<path d="M1189.9 2071.1V2174.9M1177.1 2071.1h25.6M1177.1 2174.9h25.6" fill="none" stroke="#000" stroke-width="2.75"/>
<path d="M659 2068.5L823.4 1997.7M661.2 2029.5L812.7 2063.5M667 2036.8L816.7 2095.2M669.2 2091.2L821 2035.1M664.1 2105.8L829.9 2037.7M669.9 2195.6L829.7 2201.5M666.1 2153.3L838.3 2150.3M681.6 2160.1L808.3 2130.1M673.9 2115.7L812.7 2136.1M654.1 2114.8L834.3 2058.9M677.7 2128.8L825.4 2070.7M646.5 2131.5L808.5 2082.2M673.6 2141.2L838.3 2089.2M650.1 2152.1L820.7 2176M654.1 2160.1L816.1 2178.8M662.1 2188L825.2 2182.4M658.1 2191.8L834.3 2185.1M829.9 2037.7L982.5 1946.7M823.4 1997.7L980.3 2038M821 2035.1L990.1 2034.2M834.3 2058.9L992.7 2175.7M838.3 2089.2L975.6 2055.8M808.5 2082.2L970.9 2059.8M816.7 2095.2L965.4 2133.5M812.7 2063.5L985 2078M825.4 2070.7L994.5 2079.3M808.3 2130.1L1000.3 2155.2M812.7 2136.1L984.9 2156.1M838.3 2150.3L996.3 2160.6M820.7 2176L969.1 2163.3M816.1 2178.8L980.7 2183.5M825.2 2182.4L973 2197.8M834.3 2185.1L977.2 2202.4M829.7 2201.5L988.3 2205.6M982.5 1946.7L1132.1 2066.2M994.5 2079.3L1141.9 2014.2M990.1 2034.2L1137.2 2039.3M980.3 2038L1147 2049.3M975.6 2055.8L1142.3 2101M970.9 2059.8L1153.2 2124.8M985 2078L1151.7 2105.2M965.4 2133.5L1157 2153.9M1000.3 2155.2L1127 2136.1M984.9 2156.1L1141.9 2147M996.3 2160.6L1123.4 2151.2M969.1 2163.3L1149.7 2152.1M992.7 2175.7L1160.6 2153.3M980.7 2183.5L1137.9 2167.3M973 2197.8L1130.7 2173M977.2 2202.4L1134.7 2173.9M988.3 2205.6L1145.6 2181.5" fill="none" stroke="#c9c9c9" stroke-width="1.15"/>
<circle cx="711.9" cy="2127.4" r="4.5" fill="#000"/>
<circle cx="871.1" cy="2110.1" r="4.5" fill="#000"/>
<circle cx="1030.4" cy="2119.2" r="4.5" fill="#000"/>
<circle cx="1189.9" cy="2122.8" r="4.5" fill="#000"/>
<path d="M584.6 1840.7 V2263.5 H1221.7" fill="none" stroke="#3a3a3a" stroke-width="1.0" stroke-linecap="square"/>
<path d="M584.6 2263.5h7M584.6 2164.45h7M584.6 2065.4h7M584.6 1966.35h7M584.6 1867.3h7M664.1 2263.5v-7M823.6 2263.5v-7M983 2263.5v-7M1142.3 2263.5v-7" fill="none" stroke="#3a3a3a" stroke-width="1.0"/>
<text transform="translate(561.45 2272.7) scale(1.0000 1)" font-size="23.1" fill="#262626">0</text>
<text transform="translate(562.17 2173.65) scale(1.0000 1)" font-size="23.1" fill="#262626">1</text>
<text transform="translate(562.17 2074.6) scale(1.0000 1)" font-size="23.1" fill="#262626">2</text>
<text transform="translate(561.81 1975.55) scale(1.0000 1)" font-size="23.1" fill="#262626">3</text>
<text transform="translate(561.08 1876.5) scale(1.0000 1)" font-size="23.1" fill="#262626">4</text>
<text transform="translate(618.3 2296.1) scale(1.0142 1)" font-size="23.1" fill="#262626">Baseline</text>
<text transform="translate(802.22 2296.1) scale(1.1468 1)" font-size="23.1" fill="#262626">ISO</text>
<text transform="translate(947.14 2296.1) scale(1.0433 1)" font-size="23.1" fill="#262626">NMES</text>
<text transform="translate(1079.29 2296.1) scale(1.0647 1)" font-size="23.1" fill="#262626">NMES+ISO</text>
<text transform="translate(546 0) rotate(-90)" font-size="26.5" fill="#262626"><tspan x="-2177.31" textLength="138.56" lengthAdjust="spacingAndGlyphs">Coherence</tspan> <tspan x="-2030.89" textLength="130.76" lengthAdjust="spacingAndGlyphs">(z-scores)</tspan></text>
<text transform="translate(0 1829.5)" font-size="27.3" fill="#000000" font-weight="bold" font-style="italic"><tspan x="801.78" textLength="70.38" lengthAdjust="spacingAndGlyphs">Beta</tspan> <tspan x="882.52" textLength="109.8" lengthAdjust="spacingAndGlyphs">(15-30</tspan> <tspan x="1002.93" textLength="55.91" lengthAdjust="spacingAndGlyphs">Hz)</tspan></text>
</g>
<text transform="translate(0 1284)" font-size="77" fill="#000000" font-family="Liberation Sans, sans-serif"><tspan x="5.71" textLength="41.73" lengthAdjust="spacingAndGlyphs">b</tspan><tspan x="51.5" textLength="22.5" lengthAdjust="spacingAndGlyphs">)</tspan></text>
</svg>
</body>
</html>
